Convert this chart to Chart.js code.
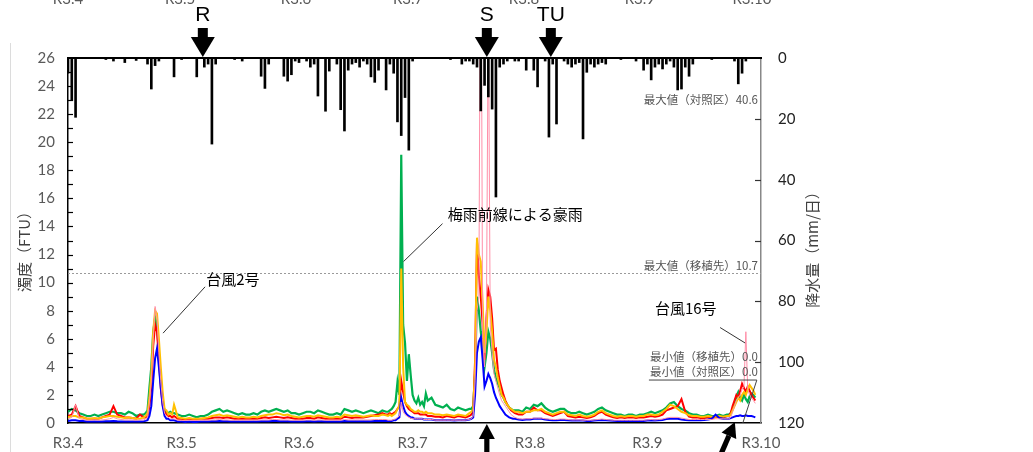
<!DOCTYPE html>
<html><head><meta charset="utf-8">
<script src="https://cdn.jsdelivr.net/npm/chart.js@4.4.1/dist/chart.umd.min.js"></script>
<style>html,body{margin:0;padding:0;background:#fff}#wrap{width:1033px;height:452px;position:relative}</style>
</head><body><div id="wrap"><canvas id="c"></canvas></div>
<script>
// ---- time axis (days since R3.4.1) ----
const days = [
 0,1,2,3,4,5,6,7,8,9,10,11,12,13,14,15,16,17,18,19,20,
 20.5,21,21.5,22,22.5,23,23.5,24,24.5,25,25.5,26,26.5,27,27.5,28,
 29,30,31,32,33,34,35,36,37,38,39,40,41,42,43,44,45,46,47,48,49,50,51,52,53,54,55,56,57,58,59,60,61,62,63,64,65,66,67,68,69,70,71,72,73,74,75,76,77,78,79,80,81,82,83,84,
 84.5,85,85.5,86,86.5,87,87.5,88,88.5,89,89.5,90,90.5,91,91.5,92,92.5,93,93.5,94,94.5,95,
 96,97,98,99,100,101,102,103,104,105,106,
 106.5,107,107.5,108,108.5,109,109.5,110,110.5,111,111.5,112,112.5,113,113.5,114,114.5,115,115.5,116,116.5,117,117.5,118,
 119,120,121,122,123,124,125,126,127,128,129,130,131,132,133,134,135,136,137,138,139,140,141,142,143,144,145,146,147,148,149,150,151,152,153,154,155,156,157,158,159,160,161,162,163,164,165,166,167,168,169,170,171,172,173,174,
 174.5,175,175.5,176,176.5,177,177.5,178,178.5,179,179.5,180,180.5,181,181.5
];
// ---- turbidity (FTU) ----
const turbGreen = [
 0.8,1.0,0.9,0.7,0.6,0.5,0.5,0.6,0.5,0.6,0.7,0.8,0.8,0.7,0.7,0.6,0.8,0.7,0.5,0.6,0.6,
 0.7,0.9,2.5,4.0,6.5,7.5,7.0,5.0,3.0,1.5,0.9,0.8,0.7,0.8,0.7,0.7,
 0.6,0.5,0.5,0.6,0.5,0.4,0.5,0.5,0.6,0.8, 0.9,1.0,0.8,0.9,0.8,0.7,0.6,0.7,0.6,0.6, 0.7,0.6,0.8,0.9,0.8,0.9,1.0,0.9,0.8,0.9, 0.7,0.7,0.6,0.7,0.8,0.8,0.7,0.9,0.8,0.7, 0.6,0.6,0.7,0.6,1.0,0.9,0.8,0.9,0.8,0.7, 0.8,0.9,0.8,0.7,0.9,0.8,
 0.8,0.9,1.0,1.2,1.5,2.9,2.0,19.1,7.0,5.7,3.0,4.9,3.4,2.0,1.6,1.4,1.8,1.3,1.5,1.2,2.1,1.6,
 1.8,1.3,1.2,1.1,1.3,1.0,0.9,1.1,1.0,0.9,1.0,
 1.0,1.2,3.5,9.0,8.0,6.5,5.5,4.0,5.0,6.5,6.0,5.0,3.8,3.2,2.8,2.5,2.0,1.8,1.5,1.3,1.1,1.0,0.9,0.9,
 0.9,0.8,1.1,1.0,1.3,1.2,1.4,1.1,0.9,0.8, 0.9,1.0,1.0,0.8,0.7,0.7,0.8,0.7,0.6,0.7, 0.8,1.0,1.1,0.9,0.8,0.7,0.6,0.6,0.5,0.6, 0.6,0.5,0.6,0.6,0.7,0.8,0.7,0.8,0.9,1.1, 1.4,1.5,1.2,1.0,0.9,0.7,0.6,0.6,0.5,0.5, 0.6,0.5,0.5,0.6,0.5,0.6,
 0.6,0.7,1.0,1.3,1.9,2.2,1.8,1.6,2.0,1.7,1.5,1.9,2.1,2.0,1.8
];
const turbYellow = [
 0.4,0.5,0.5,0.4,0.4,0.3,0.3,0.35,0.3,0.4,0.45,0.5,0.5,0.45,0.4,0.35,0.4,0.35,0.3,0.3,0.4,
 0.5,0.7,1.8,3.5,6.5,8.0,7.8,6.0,4.0,2.2,1.0,0.9,0.6,0.7,0.6,1.3,
 0.4,0.35,0.3,0.35,0.3,0.3,0.3,0.35,0.4,0.5, 0.55,0.6,0.5,0.55,0.5,0.45,0.4,0.45,0.4,0.4, 0.45,0.4,0.5,0.55,0.6,0.6,0.7,0.65,0.55,0.6, 0.5,0.45,0.4,0.45,0.5,0.5,0.45,0.55,0.5,0.45, 0.4,0.4,0.45,0.4,0.6,0.55,0.5,0.55,0.5,0.45, 0.5,0.55,0.5,0.5,0.6,0.55,
 0.5,0.6,0.5,0.6,0.7,1.0,1.2,11.0,4.0,1.5,1.3,1.2,1.0,0.9,0.8,0.8,0.9,0.8,0.8,0.7,0.8,0.7,
 0.7,0.6,0.6,0.55,0.6,0.55,0.5,0.6,0.55,0.5,0.7,
 0.8,1.0,4.0,13.2,12.0,11.5,8.5,5.0,6.5,9.0,8.0,6.5,4.5,4.0,3.2,2.6,2.0,1.8,1.5,1.3,1.1,1.0,0.9,0.8,
 0.8,0.7,0.8,0.8,0.9,0.9,1.0,0.8,0.7,0.6, 0.7,0.8,0.8,0.6,0.55,0.5,0.6,0.5,0.45,0.5, 0.6,0.8,0.9,0.7,0.6,0.5,0.45,0.5,0.45,0.5, 0.5,0.45,0.5,0.5,0.6,0.6,0.55,0.6,0.8,1.0, 1.3,1.2,1.0,0.8,0.7,0.55,0.5,0.5,0.45,0.45, 0.5,0.45,0.45,0.5,0.45,0.5,
 0.5,0.6,0.9,1.2,1.5,1.8,1.6,2.0,2.2,2.0,2.4,2.7,2.5,2.3,2.0
];
const turbRed = [
 0.5,0.6,1.2,0.5,0.4,0.3,0.3,0.3,0.3,0.4,0.5,0.6,1.2,0.6,0.5,0.4,0.4,0.35,0.3,0.6,0.4,
 0.4,0.5,1.2,2.5,5.5,7.0,6.5,4.5,2.5,1.3,0.8,0.6,0.5,0.5,0.4,0.5,
 0.3,0.3,0.25,0.3,0.25,0.25,0.3,0.3,0.3,0.35, 0.4,0.4,0.35,0.4,0.35,0.3,0.3,0.3,0.3,0.3, 0.3,0.3,0.35,0.4,0.35,0.4,0.45,0.4,0.35,0.4, 0.35,0.3,0.3,0.3,0.35,0.35,0.3,0.4,0.35,0.3, 0.3,0.3,0.3,0.3,0.45,0.4,0.35,0.4,0.4,0.4, 0.45,0.5,0.55,0.6,0.7,0.6,
 0.6,0.7,0.6,0.7,0.8,1.0,1.2,3.0,2.2,1.5,1.2,1.0,0.9,0.8,0.7,0.7,0.7,0.6,0.6,0.6,0.6,0.5,
 0.5,0.45,0.45,0.4,0.5,0.45,0.4,0.5,0.45,0.4,0.5,
 0.6,0.8,4.5,12.9,10.5,9.0,7.0,4.5,7.5,9.5,9.0,7.5,5.2,5.3,3.8,3.0,2.5,2.0,1.6,1.3,1.1,0.9,0.8,0.7,
 0.6,0.6,0.8,0.8,1.1,0.9,0.9,0.7,0.6,0.5, 0.6,0.7,0.8,0.5,0.45,0.4,0.45,0.4,0.35,0.4, 0.5,0.7,0.8,0.6,0.5,0.4,0.35,0.4,0.35,0.4, 0.4,0.35,0.4,0.4,0.45,0.5,0.45,0.5,0.6,0.9, 1.0,1.1,1.2,1.7,0.8,0.45,0.4,0.4,0.35,0.35, 0.4,0.35,0.4,0.45,0.4,0.5,
 0.5,0.7,1.2,1.6,2.0,1.8,2.3,2.8,2.5,2.2,2.6,2.3,2.0,1.8,1.6
];
const turbBlue = [
 0.15,0.2,0.2,0.15,0.15,0.1,0.1,0.1,0.1,0.1,0.12,0.12,0.15,0.12,0.1,0.1,0.1,0.1,0.1,0.1,0.12,
 0.15,0.2,0.5,1.2,3.0,4.6,5.3,4.0,2.5,1.2,0.5,0.3,0.3,0.2,0.2,0.2,
 0.1,0.1,0.08,0.1,0.08,0.08,0.1,0.1,0.1,0.12, 0.12,0.15,0.12,0.12,0.1,0.1,0.1,0.1,0.1,0.1, 0.1,0.1,0.12,0.12,0.12,0.15,0.15,0.12,0.12,0.12, 0.1,0.1,0.1,0.1,0.12,0.12,0.1,0.12,0.12,0.1, 0.1,0.1,0.1,0.1,0.15,0.12,0.12,0.12,0.12,0.12, 0.12,0.12,0.15,0.15,0.15,0.15,
 0.15,0.15,0.15,0.2,0.2,0.3,0.4,1.8,1.2,0.8,0.6,0.5,0.4,0.4,0.3,0.3,0.3,0.3,0.3,0.25,0.25,0.25,
 0.25,0.2,0.2,0.2,0.2,0.2,0.18,0.2,0.2,0.2,0.25,
 0.3,0.4,2.0,5.0,5.8,6.1,4.5,2.6,3.0,3.5,3.2,2.8,2.2,1.8,1.5,1.2,1.0,0.8,0.6,0.5,0.4,0.35,0.3,0.3,
 0.25,0.22,0.25,0.25,0.3,0.3,0.3,0.25,0.22,0.2, 0.2,0.22,0.22,0.2,0.18,0.18,0.18,0.17,0.15,0.15, 0.18,0.2,0.22,0.2,0.18,0.16,0.15,0.15,0.15,0.15, 0.15,0.15,0.15,0.15,0.18,0.2,0.18,0.2,0.22,0.28, 0.3,0.3,0.3,0.25,0.22,0.2,0.2,0.2,0.2,0.22, 0.25,0.3,0.6,0.35,0.3,0.3,
 0.3,0.35,0.4,0.45,0.5,0.5,0.55,0.5,0.5,0.55,0.5,0.5,0.5,0.45,0.4
];
const turbPink = [
 0.3,0.4,1.3,0.3,0.25,0.2,0.2,0.22,0.2,0.22,0.25,0.3,0.4,0.3,0.25,0.22,0.22,0.22,0.2,0.22,0.22,
 0.3,0.4,1.5,3.0,6.0,8.3,7.5,5.0,3.0,1.5,0.7,0.5,0.4,0.3,0.3,0.3,
 0.2,0.18,0.18,0.2,0.18,0.18,0.2,0.2,0.2,0.22, 0.22,0.25,0.22,0.22,0.2,0.2,0.2,0.2,0.2,0.2, 0.2,0.2,0.22,0.22,0.22,0.25,0.25,0.22,0.22,0.22, 0.2,0.2,0.2,0.2,0.22,0.22,0.2,0.22,0.22,0.2, 0.2,0.2,0.2,0.2,0.25,0.22,0.22,0.22,0.22,0.22, 0.22,0.22,0.25,0.25,0.25,0.25,
 0.2,0.2,0.2,0.25,0.3,0.4,0.5,1.5,0.8,0.6,0.5,0.4,0.35,0.3,0.3,0.3,0.3,0.3,0.3,0.25,0.25,0.25,
 0.25,0.2,0.2,0.2,0.2,0.2,0.2,0.2,0.2,0.2,0.25,
 0.3,0.5,3.0,8.0,9.0,40.6,6.0,4.0,8.0,30.0,7.0,5.0,3.5,3.0,2.5,2.0,1.6,1.4,1.2,1.0,0.8,0.6,0.5,0.4,
 0.3,0.28,0.3,0.3,0.35,0.35,0.35,0.3,0.28,0.25, 0.25,0.28,0.28,0.25,0.22,0.22,0.22,0.2,0.2,0.2, 0.22,0.25,0.28,0.25,0.22,0.2,0.2,0.2,0.2,0.2, 0.2,0.2,0.2,0.2,0.22,0.25,0.22,0.25,0.28,0.35, 0.4,0.4,0.4,0.35,0.3,0.25,0.25,0.25,0.25,0.25, 0.25,0.25,0.3,0.3,0.3,0.3,
 0.3,0.4,0.8,1.2,1.6,1.8,2.0,2.4,2.6,6.5,2.4,2.0,1.8,1.6,1.4
];
// ---- daily rainfall (mm/day) ----
const rainDays = [0,1,2,10,12,15,18,21,22,23,24,28,30,34,36,37,38,39,44,46,
 51,52,53,57,58,59,60,61,63,64,65,66,68,69,71,72,73,74,75,76,
 77,78,79,80,81,82,84,85,86,87,88,89,90,91,101,104,105,106,107,108,
 109,110,111,112,113,114,115,116,118,119,121,123,124,126,127,128,129,131,132,133,
 134,135,136,137,138,139,140,141,142,146,150,152,153,154,155,156,157,158,159,160,
 161,162,163,164,165,170,176,177,178,179];
const rainMM = [5,14,19.5,0.5,1,1.5,0.8,2,10.2,2.5,1,6.2,0.5,6.2,3,2,28.3,2,0.5,1,
 6,10,2,6,7.6,5.5,1,1.5,1,3,2,12.5,17.5,4.3,2,17,24,4,2,1.5,
 3,1,2,6.2,8,4,10.5,2,5,21,25.5,13,30.3,1,0.5,2,1,1,2,3,
 17.4,9,12.8,16.8,45.7,3,2,1,1,1,4,4,9.5,1,26,2,21.7,1,2,3,
 2,1.5,26.6,4.7,2,3,2,1.5,2,0.5,1,4,2,7.2,3,2,3.6,2,1,3,
 10.5,10.2,3,6,2,0.5,1,8.5,5,1];
// ---- axes / annotations ----
const tickDays = [0,30,61,91,122,153,183];
const tickLabels = ['R3.4','R3.5','R3.6','R3.7','R3.8','R3.9','R3.10'];
const markerDays = [35.6,110.6,127.5];
const markerLabels = ['R','S','TU'];
const maxTransplant = 10.7, maxControl = 40.6, minTransplant = 0.0, minControl = 0.0;

const pts = arr => days.map((d,i)=>({x:d,y:arr[i]}));
const lineDs = (label,arr,color,w,order)=>({type:'line',label,data:pts(arr),borderColor:color,backgroundColor:color,
  borderWidth:w,pointRadius:0,tension:0,xAxisID:'x',yAxisID:'y',order});

const JP = '"Noto Sans CJK JP", sans-serif';
const NUM = 'Lato, "Open Sans", sans-serif';

const decor = {
  id:'decor',
  beforeDraw(chart){const c=chart.ctx;c.save();c.fillStyle='#fff';c.fillRect(0,0,chart.width,chart.height);c.restore();},
  beforeDatasetsDraw(chart){
    const c=chart.ctx, a=chart.chartArea, sy=chart.scales.y;
    const y=Math.round(sy.getPixelForValue(maxTransplant))+0.5;
    c.save();c.strokeStyle='#9a9a9a';c.lineWidth=1;c.setLineDash([2,2]);
    c.beginPath();c.moveTo(a.left,y);c.lineTo(a.right,y);c.stroke();c.restore();
  },
  afterDraw(chart){
    const c=chart.ctx, a=chart.chartArea, sx=chart.scales.x, sy=chart.scales.y, s2=chart.scales.y2;
    const P=(d,v)=>[sx.getPixelForValue(d), sy.getPixelForValue(v)];
    c.save();
    c.strokeStyle='#dcdcdc';c.lineWidth=1;c.beginPath();c.moveTo(10.5,43);c.lineTo(10.5,452);c.stroke();
    c.strokeStyle='#000';c.lineWidth=2.2;c.beginPath();c.moveTo(a.left,a.top);c.lineTo(a.right+1,a.top);c.stroke();
    c.lineWidth=1.2;c.strokeStyle='#000';
    for(let v=1;v<26;v++){const y=Math.round(sy.getPixelForValue(v))+0.5;c.beginPath();c.moveTo(a.left,y);c.lineTo(a.left+5,y);c.stroke();}
    c.strokeStyle='#333';
    for(let v=20;v<120;v+=20){const y=Math.round(s2.getPixelForValue(v))+0.5;c.beginPath();c.moveTo(a.right,y);c.lineTo(a.right-6,y);c.stroke();}
    c.fillStyle='#404040';c.font='15px '+JP;c.textAlign='center';c.textBaseline='middle';
    c.save();c.translate(24,248);c.rotate(-Math.PI/2);c.fillText('濁度（FTU）',0,0);c.restore();
    c.save();c.translate(812,246);c.rotate(-Math.PI/2);c.fillText('降水量（mm/日）',0,0);c.restore();
    c.fillStyle='#595959';c.font='15px '+NUM;c.textBaseline='alphabetic';
    tickDays.forEach((d,i)=>{const x=a.left+(sx.getPixelForValue(d)-a.left)*0.987;c.fillText(tickLabels[i],x,4);});
    c.fillStyle='#000';c.font='15px '+JP;c.textAlign='left';c.textBaseline='middle';
    let p=P(36.5,10.25);c.fillText('台風2号',p[0],p[1]);
    p=P(100.3,14.9);c.fillText('梅雨前線による豪雨',p[0],p[1]);
    p=P(155,8.2);c.fillText('台風16号',p[0],p[1]);
    c.strokeStyle='#333';c.lineWidth=1;
    const seg=(d1,v1,d2,v2)=>{const p1=P(d1,v1),p2=P(d2,v2);c.beginPath();c.moveTo(p1[0],p1[1]);c.lineTo(p2[0],p2[1]);c.stroke();};
    seg(36.2,9.7,25.1,6.4);
    seg(98.9,14.2,88.6,11.5);
    seg(172.2,6.8,178.8,5.7);
    c.fillStyle='#555';c.font='11.5px '+JP;c.textAlign='right';
    p=P(182.2,23.0);c.fillText('最大値（対照区）'+maxControl.toFixed(1),p[0],p[1]);
    p=P(182.2,11.2);c.fillText('最大値（移植先）'+maxTransplant.toFixed(1),p[0],p[1]);
    p=P(182.2,4.72);c.fillText('最小値（移植先）'+minTransplant.toFixed(1),p[0],p[1]);
    p=P(182.2,3.63);c.fillText('最小値（対照区）'+minControl.toFixed(1),p[0],p[1]);
    c.strokeStyle='#444';seg(153.4,3.06,181.9,3.06);seg(181.9,3.06,178.2,0);
    c.fillStyle='#000';c.font='21px "Liberation Sans", Arial, sans-serif';c.textAlign='center';c.textBaseline='middle';
    markerDays.forEach((d,i)=>{
      const x=sx.getPixelForValue(d);
      c.fillText(markerLabels[i],x,15);
      c.fillRect(x-5,28,10,10);
      c.beginPath();c.moveTo(x-12,37);c.lineTo(x+12,37);c.lineTo(x,57);c.closePath();c.fill();
    });
    const arrow=(tx,ty,ux,uy,len)=>{
      const nx=-uy, ny=ux, hl=15, hw=8, sw=2.6;
      const bx=tx-ux*hl, by=ty-uy*hl;
      c.beginPath();c.moveTo(tx,ty);c.lineTo(bx+nx*hw,by+ny*hw);c.lineTo(bx-nx*hw,by-ny*hw);c.closePath();c.fill();
      const ex=tx-ux*len, ey=ty-uy*len;
      c.beginPath();c.moveTo(bx+nx*sw,by+ny*sw);c.lineTo(ex+nx*sw,ey+ny*sw);c.lineTo(ex-nx*sw,ey-ny*sw);c.lineTo(bx-nx*sw,by-ny*sw);c.closePath();c.fill();
    };
    arrow(sx.getPixelForValue(110.6),a.bottom+1,0,-1,40);
    const L=Math.hypot(13,30);
    arrow(sx.getPixelForValue(176.1),a.bottom-1,13/L,-30/L,40);
    c.restore();
  }
};

new Chart(document.getElementById('c'),{
  type:'line',
  data:{datasets:[
    {type:'bar',label:'降水量',data:rainDays.map((d,i)=>({x:d,y:rainMM[i]})),backgroundColor:'#000',barThickness:2,
     xAxisID:'x',yAxisID:'y2',order:0},
    lineDs('対照区',turbPink,'#ff8fa8',1,1),
    lineDs('移植先A',turbBlue,'#0000ff',2,2),
    lineDs('移植先C',turbYellow,'#ffc000',2,3),
    lineDs('移植先B',turbRed,'#ff0000',2,4),
    lineDs('移植先D',turbGreen,'#00b050',2.2,5)
  ]},
  options:{
    responsive:true,maintainAspectRatio:false,animation:false,
    layout:{padding:{top:58,left:0,right:0,bottom:0}},
    plugins:{legend:{display:false},tooltip:{enabled:false}},
    scales:{
      x:{type:'linear',min:0,max:183,offset:false,
        grid:{display:false,drawTicks:false},border:{display:true,color:'#000',width:1.5},
        afterBuildTicks:s=>{s.ticks=tickDays.map(v=>({value:v}));},
        afterFit:s=>{s.height=29;},
        ticks:{autoSkip:false,maxRotation:0,padding:11,color:'#595959',font:{family:NUM,size:15},
          callback:(v,i)=>tickLabels[i]}},
      y:{position:'left',min:0,max:26,
        grid:{display:false,drawTicks:false},border:{display:true,color:'#000',width:1.5},
        afterFit:s=>{s.width=68;},
        ticks:{stepSize:2,padding:13,color:'#595959',font:{family:NUM,size:15}}},
      y2:{position:'right',min:0,max:120,reverse:true,
        grid:{display:false,drawTicks:false},border:{display:true,color:'#888',width:1.5},
        afterFit:s=>{s.width=272;},
        ticks:{stepSize:20,padding:17,color:'#222',font:{family:NUM,size:15}}}
    }
  },
  plugins:[decor]
});
</script></body></html>
